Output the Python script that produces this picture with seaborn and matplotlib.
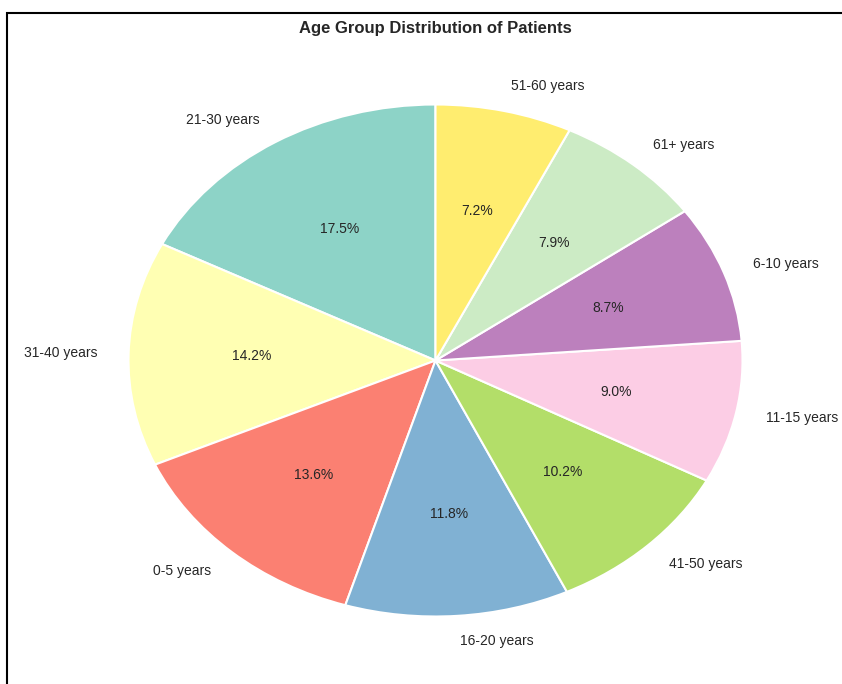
import matplotlib
matplotlib.use("Agg")
import matplotlib.pyplot as plt
import seaborn as sns
from matplotlib.patches import Rectangle

# Patient counts by age group, as shares of the total (%)
age_groups = ["21-30 years", "31-40 years", "0-5 years", "16-20 years",
              "41-50 years", "11-15 years", "6-10 years", "61+ years", "51-60 years"]
shares = [17.5, 14.2, 13.6, 11.8, 10.2, 9.0, 8.7, 7.9, 7.2]
set3_index = [0, 1, 3, 4, 6, 7, 9, 10, 11]

sns.set_theme(style="white")
plt.rcParams["font.family"] = ["Liberation Sans", "DejaVu Sans"]

set3 = sns.color_palette("Set3", 12)
colors = [set3[i] for i in set3_index]

W, H = 842, 684
fig = plt.figure(figsize=(W / 100, H / 100), dpi=100)

# elliptical pie: data range -1..1 spans the axes box
cx, cy, rx, ry = 435.5, 360.5, 307, 256
ax = fig.add_axes([(cx - rx) / W, 1 - (cy + ry) / H, 2 * rx / W, 2 * ry / H])

wedges, texts, autotexts = ax.pie(
    shares, labels=age_groups, colors=colors, startangle=90,
    autopct="%1.1f%%", pctdistance=0.6, labeldistance=1.1,
    wedgeprops=dict(edgecolor="white", linewidth=1.5),
    textprops=dict(fontsize=10, color="#262626"),
)
ax.set_aspect("auto")
ax.set_xlim(-1, 1)
ax.set_ylim(-1, 1)
ax.axis("off")

fig.text(cx / W, 1 - 28 / H, "Age Group Distribution of Patients",
         ha="center", va="center", fontsize=12, fontweight="bold", color="#262626")

# figure frame
fig.patches.append(Rectangle((6.5 / W, -0.05), 1.1, 1 - 12.5 / H + 0.05,
                             transform=fig.transFigure, fill=False,
                             edgecolor="black", linewidth=1.5))

fig.savefig("out.png", dpi=100)
